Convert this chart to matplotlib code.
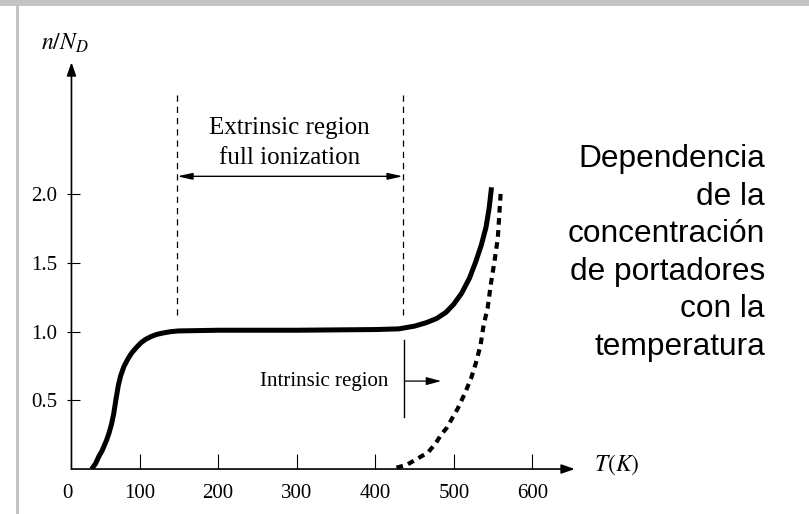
import matplotlib
matplotlib.use('Agg')
import matplotlib.pyplot as plt
from matplotlib.patches import Rectangle

plt.rcParams['font.family'] = 'Liberation Serif'
plt.rcParams['mathtext.fontset'] = 'stix'

# solid curve: n/N_D vs T
temp_solid = [39, 44, 48, 52, 55, 58, 61, 64, 67, 70, 73, 76, 80, 85, 90, 96, 102, 108,
              115, 122, 130, 140, 150, 200, 300, 400, 430, 450, 465, 478, 490, 500, 510, 520,
              528, 535, 541, 545, 548]
n_solid = [0.0, 0.04, 0.09, 0.13, 0.17, 0.21, 0.26, 0.32, 0.40, 0.51, 0.61, 0.68, 0.745, 0.80,
           0.845, 0.885, 0.92, 0.945, 0.965, 0.98, 0.99, 1.0, 1.005, 1.01, 1.01, 1.015, 1.02,
           1.04, 1.065, 1.095, 1.14, 1.20, 1.28, 1.39, 1.51, 1.63, 1.76, 1.90, 2.05]

# dashed curve: intrinsic carrier concentration
temp_dash = [427, 440, 455, 467, 476, 484, 491, 497, 505, 514, 522, 528, 534, 538, 543, 547, 552, 556, 560]
n_dash = [0.01, 0.03, 0.08, 0.12, 0.18, 0.25, 0.30, 0.36, 0.44, 0.55, 0.66, 0.77, 0.90, 1.05, 1.17,
          1.34, 1.52, 1.68, 2.04]

x_ticks = [8, 100, 200, 300, 400, 500, 600]
x_labels = ['0', '100', '200', '300', '400', '500', '600']
y_ticks = [0.5, 1.0, 1.5, 2.0]
y_labels = ['0.5', '1.0', '1.5', '2.0']

extrinsic_lo, extrinsic_hi = 148, 435
note = 'Dependencia\nde la\nconcentración\nde portadores\ncon la\ntemperatura'

fig = plt.figure(figsize=(8.09, 5.14), dpi=100)
ax = fig.add_axes([0.0832, 0.0875, 0.6273, 0.786])
ax.set_xlim(13.3, 654)
ax.set_ylim(0, 2.94)
for s in ax.spines.values():
    s.set_visible(False)

# axes with arrow heads
arrow_ax = dict(arrowstyle='-|>,head_length=0.4,head_width=0.14', lw=1.2, color='k',
                shrinkA=0, shrinkB=0, mutation_scale=20)
ax.annotate('', xy=(654, 0), xytext=(13.3, 0), arrowprops=arrow_ax, annotation_clip=False)
ax.annotate('', xy=(13.3, 2.96), xytext=(13.3, 0), arrowprops=arrow_ax, annotation_clip=False)

ax.set_xticks(x_ticks)
ax.set_xticklabels(x_labels)
ax.set_yticks(y_ticks)
ax.set_yticklabels(y_labels)
ax.tick_params(axis='x', direction='in', length=11, width=0.8, pad=10.5, labelsize=15)
ax.tick_params(axis='y', direction='in', length=9.5, width=0.8, pad=7.5, labelsize=15)
ax.xaxis.get_major_ticks()[0].tick1line.set_visible(False)

ax.plot(temp_solid, n_solid, color='k', lw=3.6, solid_capstyle='butt', solid_joinstyle='round')
ax.plot(temp_dash, n_dash, color='k', lw=3.0, linestyle=(0, (1.6, 1.3)))

# extrinsic region
for xv in (extrinsic_lo, extrinsic_hi):
    ax.plot([xv, xv], [1.12, 2.73], color='k', lw=0.9, linestyle=(0, (5, 4)))
ax.annotate('', xy=(extrinsic_hi, 2.13), xytext=(extrinsic_lo, 2.13),
            arrowprops=dict(arrowstyle='<|-|>,head_length=0.45,head_width=0.1', lw=1.0, color='k',
                            shrinkA=0, shrinkB=0, mutation_scale=20))
ax.text(291, 2.48, 'Extrinsic region', ha='center', va='center', fontsize=18)
ax.text(291, 2.26, 'full ionization', ha='center', va='center', fontsize=18)

# intrinsic region
ax.plot([437, 437], [0.38, 0.94], color='k', lw=1.0)
ax.annotate('', xy=(484, 0.64), xytext=(437, 0.64),
            arrowprops=dict(arrowstyle='-|>,head_length=0.45,head_width=0.12', lw=0.9, color='k',
                            shrinkA=0, shrinkB=0, mutation_scale=20))
ax.text(417, 0.64, 'Intrinsic region', ha='right', va='center', fontsize=15)

fig.text(65 / 809, 1 - 43 / 514, '$n/N_D$', ha='center', va='center', fontsize=17)
fig.text(594 / 809, 1 - 465 / 514, '$T(K)$', ha='left', va='center', fontsize=17)

fig.text(765 / 809, 1 - 253 / 514, note, ha='right', va='center', multialignment='right',
         fontsize=22.8, family='Liberation Sans', linespacing=1.33)

# scan frame
fig.add_artist(Rectangle((0, 1 - 6 / 514), 1, 6 / 514, transform=fig.transFigure,
                         color='#c4c4c4', lw=0))
fig.add_artist(Rectangle((16 / 809, 0), 3 / 809, 1, transform=fig.transFigure,
                         color='#c4c4c4', lw=0))

fig.savefig('out.png', dpi=100)
